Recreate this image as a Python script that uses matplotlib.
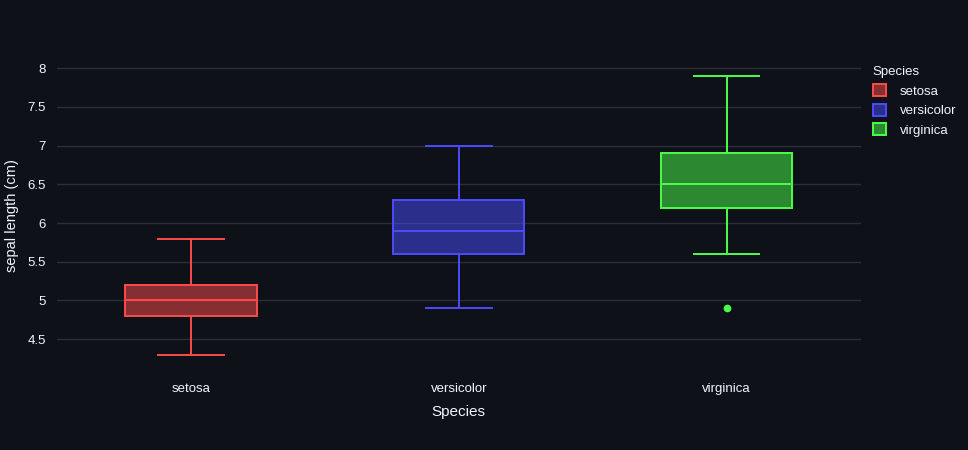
import matplotlib
matplotlib.use("Agg")
import matplotlib.pyplot as plt
from matplotlib.patches import Patch

plt.rcParams["font.family"] = ["Liberation Sans", "DejaVu Sans"]

# iris sepal length, box stats
species = ["setosa", "versicolor", "virginica"]
q1 = [4.8, 5.6, 6.2]
median = [5.0, 5.9, 6.5]
q3 = [5.2, 6.3, 6.9]
whislo = [4.3, 4.9, 5.6]
whishi = [5.8, 7.0, 7.9]
outliers = [[], [], [4.9]]
colors = ["#ff4b4b", "#4b4bff", "#4bff4b"]
yticks = [4.5, 5, 5.5, 6, 6.5, 7, 7.5, 8]
ytick_labels = ["4.5", "5", "5.5", "6", "6.5", "7", "7.5", "8"]

BG = "#0e1117"
GRID = "#2b2f38"
TXT = "#f2f5fa"

fig = plt.figure(figsize=(9.68, 4.5), dpi=100, facecolor=BG)
ax = fig.add_axes([0.059, 0.181, 0.83, 0.681], facecolor=BG)

lw = 1.4
for i, name in enumerate(species):
    stats = [dict(label=name, q1=q1[i], med=median[i], q3=q3[i],
                  whislo=whislo[i], whishi=whishi[i], fliers=outliers[i])]
    c = colors[i]
    ax.bxp(stats, positions=[i], widths=0.49, patch_artist=True,
           boxprops=dict(facecolor=c + "80", edgecolor=c, linewidth=lw),
           medianprops=dict(color=c, linewidth=lw),
           whiskerprops=dict(color=c, linewidth=lw),
           capprops=dict(color=c, linewidth=lw),
           capwidths=0.245,
           flierprops=dict(marker="o", markerfacecolor=c, markeredgecolor=c,
                           markersize=4.5, linestyle="none"),
           manage_ticks=False, zorder=3)

ax.set_xlim(-0.5, 2.5)
ax.set_ylim(4.12, 8.08)
ax.set_xticks(range(len(species)))
ax.set_xticklabels(species)
ax.set_yticks(yticks)
ax.set_yticklabels(ytick_labels)
ax.tick_params(axis="both", length=0, colors=TXT, labelsize=9.5)
ax.tick_params(axis="x", pad=10.5)
ax.tick_params(axis="y", pad=8)
ax.yaxis.grid(True, color=GRID, linewidth=1, zorder=0)
ax.set_axisbelow(True)
for s in ax.spines.values():
    s.set_visible(False)

ax.set_xlabel("Species", color=TXT, fontsize=11, labelpad=7)
ax.set_ylabel("sepal length (cm)", color=TXT, fontsize=10.5, labelpad=6)

handles = [Patch(facecolor=c + "80", edgecolor=c, linewidth=lw, label=n)
           for c, n in zip(colors, species)]
leg = fig.legend(handles=handles, title="Species", loc="upper left",
                 bbox_to_anchor=(0.896, 0.865), frameon=False,
                 fontsize=9.5, title_fontsize=9.5, labelcolor=TXT,
                 handlelength=1.05, handleheight=1.05, handletextpad=1.0,
                 labelspacing=0.45, borderaxespad=0)
leg.get_title().set_color(TXT)
leg._legend_box.align = "left"

fig.savefig("out.png", dpi=100, facecolor=BG)
